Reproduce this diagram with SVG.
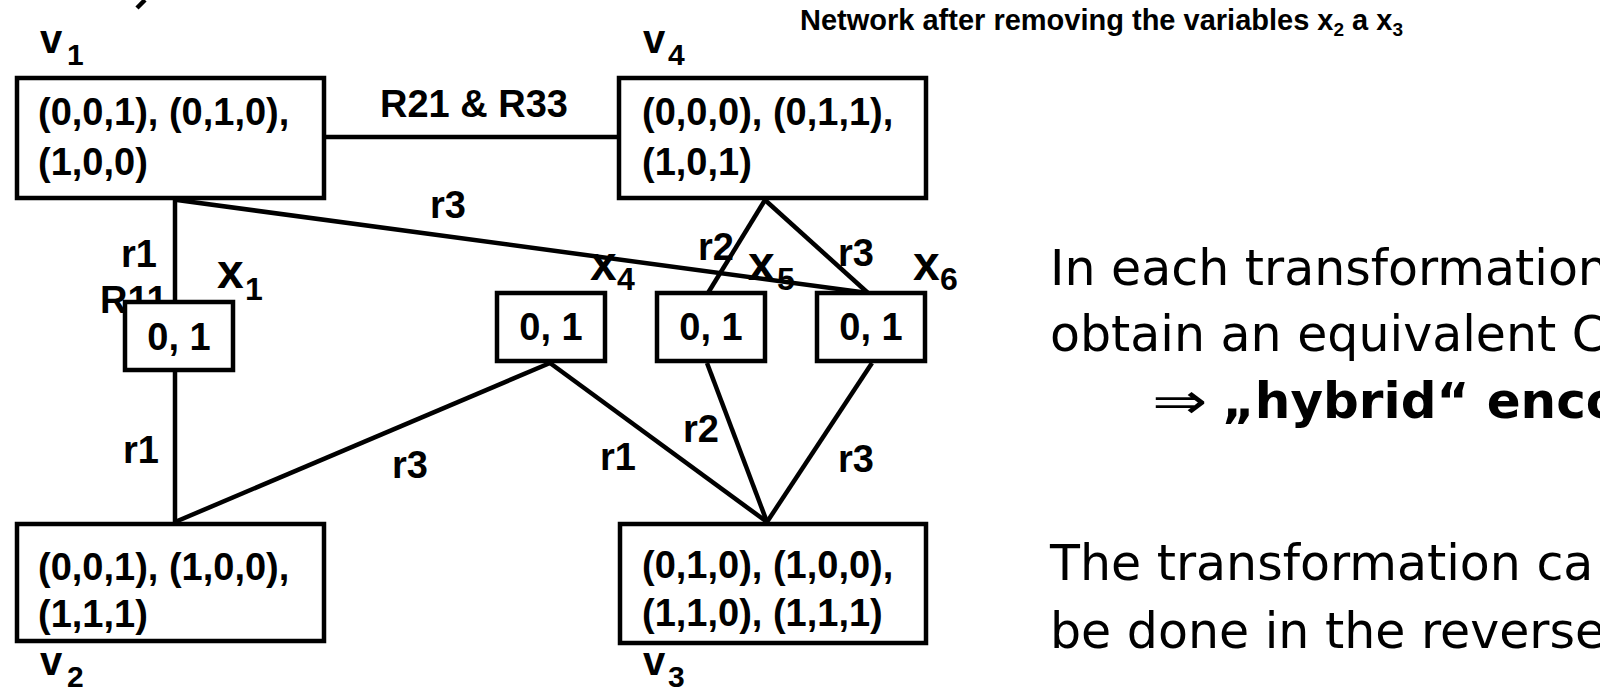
<svg xmlns="http://www.w3.org/2000/svg" width="1600" height="690" viewBox="0 0 1600 690">
  <style>
    .box { fill: #fff; stroke: #000; stroke-width: 4.5; }
    .edge { stroke: #000; stroke-width: 4.5; fill: none; }
    .t { font-family: "Liberation Sans", Arial, sans-serif; font-weight: bold; font-size: 38px; fill: #000; }
    .lbl { font-family: "Liberation Sans", Arial, sans-serif; font-weight: bold; fill: #000; }
    .cap { font-family: "Liberation Sans", Arial, sans-serif; font-weight: bold; font-size: 29px; fill: #000; }
    .body { font-family: "DejaVu Sans", Tahoma, sans-serif; font-size: 49px; fill: #000; }
    .strong { font-family: "DejaVu Sans", Tahoma, sans-serif; font-weight: bold; font-size: 50px; fill: #000; }
  </style>

  <rect width="1600" height="690" fill="#fff"/>

  <!-- stray stroke at the top edge -->
  <line x1="145" y1="0" x2="137" y2="8" class="edge"/>

  <text class="cap" x="800" y="30">Network after removing the variables x<tspan font-size="19" dy="6">2</tspan><tspan dy="-6"> a x</tspan><tspan font-size="19" dy="6">3</tspan></text>

  <!-- connectors -->
  <g id="connectors">
    <line class="edge" x1="326" y1="137" x2="619" y2="137"/>
    <line class="edge" x1="175" y1="200" x2="175" y2="302"/>
    <line class="edge" x1="175" y1="370" x2="175" y2="522"/>
    <line class="edge" x1="177" y1="200" x2="868" y2="293"/>
    <line class="edge" x1="765" y1="200" x2="708" y2="293"/>
    <line class="edge" x1="765" y1="200" x2="868" y2="293"/>
    <line class="edge" x1="550" y1="363" x2="175" y2="522"/>
    <line class="edge" x1="550" y1="363" x2="767" y2="522"/>
    <line class="edge" x1="707" y1="363" x2="767" y2="522"/>
    <line class="edge" x1="872" y1="363" x2="767" y2="522"/>

    <text class="t" x="380" y="117">R21 &amp; R33</text>
    <text class="t" x="430" y="218">r3</text>
    <text class="t" x="121" y="267">r1</text>
    <text class="t" x="100" y="313">R11</text>
    <text class="t" x="123" y="463">r1</text>
    <text class="t" x="392" y="478">r3</text>
    <text class="t" x="698" y="260">r2</text>
    <text class="t" x="838" y="266">r3</text>
    <text class="t" x="683" y="442">r2</text>
    <text class="t" x="600" y="470">r1</text>
    <text class="t" x="838" y="472">r3</text>
  </g>

  <!-- value nodes -->
  <g id="v1">
    <rect class="box" x="17" y="78" width="307" height="120"/>
    <text class="t" x="38" y="125">(0,0,1), (0,1,0),</text>
    <text class="t" x="38" y="175">(1,0,0)</text>
    <text class="lbl" x="40" y="53" font-size="40">v</text>
    <text class="lbl" x="67" y="65" font-size="30">1</text>
  </g>

  <g id="v4">
    <rect class="box" x="619" y="78" width="307" height="120"/>
    <text class="t" x="642" y="125">(0,0,0), (0,1,1),</text>
    <text class="t" x="642" y="175">(1,0,1)</text>
    <text class="lbl" x="643" y="53" font-size="40">v</text>
    <text class="lbl" x="668" y="65" font-size="30">4</text>
  </g>

  <g id="v2">
    <rect class="box" x="17" y="524" width="307" height="117"/>
    <text class="t" x="38" y="580">(0,0,1), (1,0,0),</text>
    <text class="t" x="38" y="627">(1,1,1)</text>
    <text class="lbl" x="40" y="675" font-size="40">v</text>
    <text class="lbl" x="67" y="687" font-size="30">2</text>
  </g>

  <g id="v3">
    <rect class="box" x="620" y="524" width="306" height="119"/>
    <text class="t" x="642" y="578">(0,1,0), (1,0,0),</text>
    <text class="t" x="642" y="626">(1,1,0), (1,1,1)</text>
    <text class="lbl" x="643" y="675" font-size="40">v</text>
    <text class="lbl" x="668" y="687" font-size="30">3</text>
  </g>

  <!-- binary variable nodes -->
  <g id="x1">
    <rect class="box" x="125" y="302" width="108" height="68"/>
    <text class="t" x="179" y="350" text-anchor="middle">0, 1</text>
    <text class="lbl" x="217" y="288" font-size="48">x</text>
    <text class="lbl" x="245" y="300" font-size="32">1</text>
  </g>

  <g id="x4">
    <rect class="box" x="497" y="293" width="108" height="68"/>
    <text class="t" x="551" y="340" text-anchor="middle">0, 1</text>
    <text class="lbl" x="590" y="280" font-size="48">x</text>
    <text class="lbl" x="617" y="290" font-size="32">4</text>
  </g>

  <g id="x5">
    <rect class="box" x="657" y="293" width="108" height="68"/>
    <text class="t" x="711" y="340" text-anchor="middle">0, 1</text>
    <text class="lbl" x="748" y="280" font-size="48">x</text>
    <text class="lbl" x="777" y="290" font-size="32">5</text>
  </g>

  <g id="x6">
    <rect class="box" x="817" y="293" width="108" height="68"/>
    <text class="t" x="871" y="340" text-anchor="middle">0, 1</text>
    <text class="lbl" x="913" y="280" font-size="48">x</text>
    <text class="lbl" x="940" y="290" font-size="32">6</text>
  </g>

  <!-- explanatory text -->
  <g id="notes">
    <text class="body" x="1050" y="285">In each transformation</text>
    <text class="body" x="1050" y="351">obtain an equivalent C</text>
    <text class="body" transform="translate(1152 418) scale(1.35 1)">⇒</text>
    <text class="strong" x="1222" y="418">„hybrid“ enco</text>
    <text class="body" x="1050" y="580">The transformation ca</text>
    <text class="body" x="1050" y="648">be done in the reverse</text>
  </g>
</svg>
